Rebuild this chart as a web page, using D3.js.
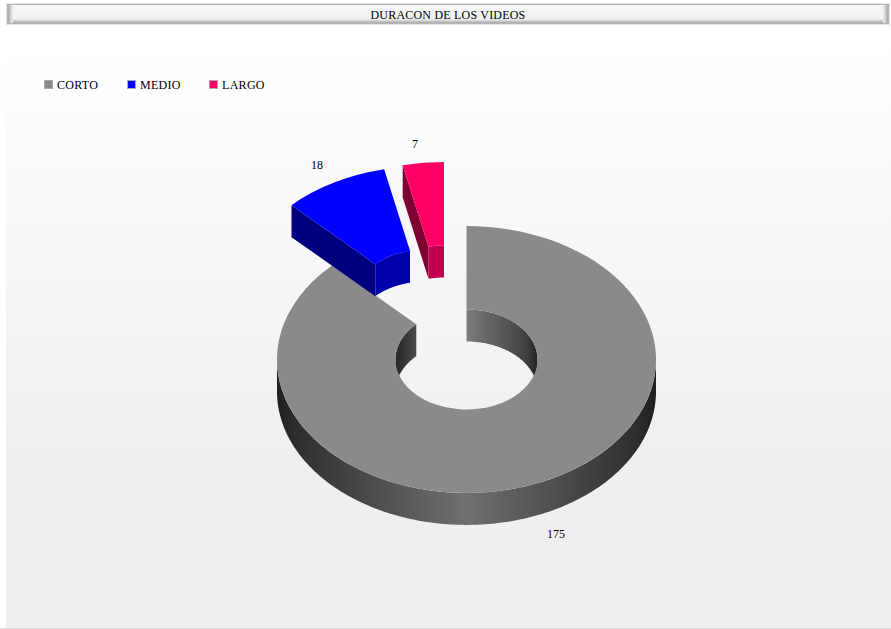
<!DOCTYPE html>
<html><head><meta charset="utf-8">
<script src="https://cdn.jsdelivr.net/npm/d3@7/dist/d3.min.js"></script>
<style>html,body{margin:0;padding:0;background:#fff}svg{display:block}text{font-family:"Liberation Serif",serif;font-size:12px;fill:#000}</style>
</head><body><svg id="c" width="891" height="629"></svg>
<script>
const title = "DURACON DE LOS VIDEOS";
const categories = ["CORTO","MEDIO","LARGO"];
const values = [175,18,7];
const topColors = ["#8a8a8a","#0000ff","#ff0066"];
const sideColors = [null,"#00007f","#7f0033"];
const wallColors = [null,"#0000aa","#c30050"];
const explode = [[0,0],[-41,-60],[-22.5,-64]];
const labelPos = [[556,538],[317,169],[415,148]];
const legendX = [44,127,209];

(function(){
const W=891,H=629, cx=466.5, cy=359.5, R=189.5, r=71, tilt=0.704, depth=32;
const svg=d3.select("#c"), defs=svg.append("defs");
function grad(id,attrs,stops){const g=defs.append("linearGradient").attr("id",id);
  Object.entries(attrs).forEach(([k,v])=>g.attr(k,v));
  stops.forEach(s=>g.append("stop").attr("offset",s[0]).attr("stop-color",s[1]));}
grad("bg",{x1:0,y1:0,x2:0,y2:1},[[0,"#ffffff"],[0.08,"#ffffff"],[0.72,"#efefef"],[1,"#efefef"]]);
grad("outer",{gradientUnits:"userSpaceOnUse",x1:cx-R,x2:cx+R,y1:0,y2:0},[[0,"#1f1f1f"],[0.06,"#303030"],[0.5,"#707070"],[0.94,"#303030"],[1,"#1f1f1f"]]);
grad("innerR",{gradientUnits:"userSpaceOnUse",x1:cx,x2:cx+r,y1:0,y2:0},[[0,"#7c7c7c"],[0.85,"#404040"],[1,"#222222"]]);
grad("innerL",{gradientUnits:"userSpaceOnUse",x1:cx-r,x2:cx,y1:0,y2:0},[[0,"#262626"],[0.29,"#4a4a4a"],[1,"#7c7c7c"]]);
grad("barBody",{x1:0,y1:0,x2:0,y2:1},[[0,"#f7f7f7"],[0.7,"#f1f1f1"],[1,"#f1f1f1"]]);
grad("barBottom",{x1:0,y1:0,x2:0,y2:1},[[0,"#f1f1f1"],[1,"#a8a8a8"]]);
grad("barLeft",{x1:0,y1:0,x2:1,y2:0},[[0,"#a8a8a8"],[1,"#f1f1f1"]]);
grad("barRight",{x1:0,y1:0,x2:1,y2:0},[[0,"#f1f1f1"],[1,"#a8a8a8"]]);

const box=(x,y,w,h,fill)=>svg.append("rect").attr("x",x).attr("y",y).attr("width",w).attr("height",h).attr("fill",fill);
box(0,0,W,H,"#fff");
box(6,0,W-6,628,"url(#bg)");
box(0,628,W,1,"#dddddd");

// title bar
box(6,3,884,22,"#e4e4e4");
box(7,4,882,20,"#b4b4b4");
box(8,5,880,18,"url(#barBody)");
box(8,19,880,4,"url(#barBottom)");
box(8,5,5,18,"url(#barLeft)");
box(883,5,5,18,"url(#barRight)");
svg.append("text").attr("x",448).attr("y",19).attr("text-anchor","middle").style("letter-spacing","0.2px").text(title);

// legend
categories.forEach((c,i)=>{
  svg.append("rect").attr("x",legendX[i]+.5).attr("y",80.5).attr("width",8).attr("height",8).attr("fill",topColors[i]).attr("stroke","#aaaaaa");
  svg.append("text").attr("x",legendX[i]+13).attr("y",89).style("letter-spacing","0.3px").text(c);
});

const arcs=d3.pie().sort(null).value(d=>d)(values);
const arcGen=d3.arc().innerRadius(r).outerRadius(R);
const pt=(rad,a,i)=>[cx+explode[i][0]+rad*Math.sin(a), cy+explode[i][1]-rad*tilt*Math.cos(a)];
const band=(rad,a0,a1,i)=>{
  const n=Math.max(2,Math.ceil(Math.abs(a1-a0)*R/3));
  const s=d3.range(n+1).map(k=>pt(rad,a0+(a1-a0)*k/n,i));
  const b=s.map(p=>[p[0],p[1]+depth]).reverse();
  return d3.line()(s.concat(b))+"Z";
};
const deg=d=>d*Math.PI/180;
const g=svg.append("g");
// CORTO
const a0=arcs[0];
g.append("path").attr("d",band(R,deg(90),deg(270),0)).attr("fill","url(#outer)");
g.append("path").attr("d",band(r,a0.startAngle,deg(90),0)).attr("fill","url(#innerR)");
g.append("path").attr("d",band(r,deg(270),a0.endAngle,0)).attr("fill","url(#innerL)");
const face=(d,i)=>g.append("path").attr("d",arcGen(d)).attr("fill",topColors[i])
  .attr("transform",`translate(${cx+explode[i][0]},${cy+explode[i][1]}) scale(1,${tilt})`);
face(a0,0);
// exploded slices
[1,2].forEach(i=>{
  const d=arcs[i];
  const pI=pt(r,d.startAngle,i), pO=pt(R,d.startAngle,i);
  g.append("path").attr("d",d3.line()([pI,pO,[pO[0],pO[1]+depth],[pI[0],pI[1]+depth]])+"Z").attr("fill",sideColors[i]);
  g.append("path").attr("d",band(r,d.startAngle,d.endAngle,i)).attr("fill",wallColors[i]);
  face(d,i);
});
values.forEach((v,i)=>svg.append("text").attr("x",labelPos[i][0]).attr("y",labelPos[i][1]).attr("text-anchor","middle").text(v));
})();
</script></body></html>
